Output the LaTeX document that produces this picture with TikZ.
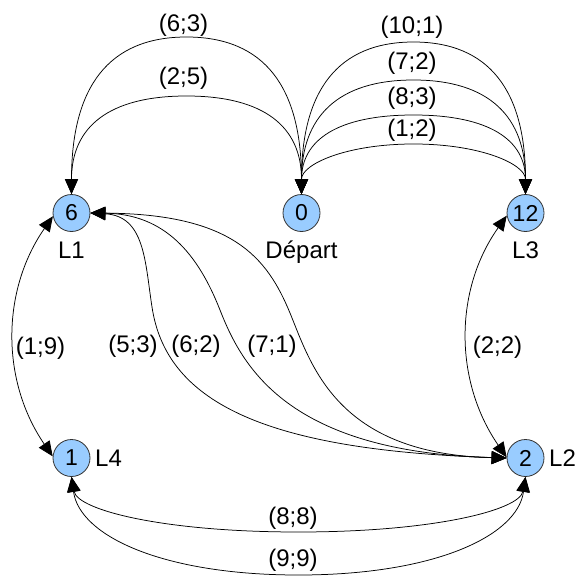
\documentclass[tikz,border=0pt]{standalone}
\usepackage{fontspec}
\setmainfont{Liberation Sans}
\usetikzlibrary{arrows.meta}
\definecolor{nodeblue}{HTML}{99CCFF}
\definecolor{rim}{HTML}{333333}
\begin{document}
\begin{tikzpicture}[x=1pt,y=-1pt,
  stop/.style={circle,draw=rim,line width=0.8pt,fill=nodeblue,minimum size=37pt,
    inner sep=0pt,font=\fontsize{23}{27}\selectfont},
  tag/.style={font=\fontsize{24}{28}\selectfont,inner sep=0pt},
  link/.style={draw=black,line width=0.75pt,
    {Triangle[length=15pt,width=13pt]}-{Triangle[length=15pt,width=13pt]}}]
\useasboundingbox (0,0) rectangle (578,583);

% stops
\node[stop] (n6)  at (71.5,213)  {6};
\node[stop] (n0)  at (301.5,213) {0};
\node[stop] (n12) at (525.5,213) {12};
\node[stop] (n1)  at (71.5,458)  {1};
\node[stop] (n2)  at (525.5,458) {2};

% stop names
\node[tag,anchor=base] (l1) at (71.5,258) {L1};
\node[tag,anchor=base] (dep) at (301.5,258) {Départ};
\node[tag,anchor=base] (l3) at (525.5,258) {L3};
\node[tag,anchor=base west] (l4) at (95,466) {L4};
\node[tag,anchor=base west] (l2) at (549,466) {L2};

% arches between 0 and 6
\draw[link] (n0.north) .. controls +(0,-107) and +(78,0) .. (186.5,37)
  .. controls +(-78,0) and +(0,-107) .. (n6.north);
\draw[link] (n0.north) .. controls +(0,-67) and +(78,0) .. (186.5,96)
  .. controls +(-78,0) and +(0,-67) .. (n6.north);

% arches between 0 and 12
\draw[link] (n0.north) .. controls +(0,-103) and +(-76,0) .. (413.5,42)
  .. controls +(76,0) and +(0,-103) .. (n12.north);
\draw[link] (n0.north) .. controls +(0,-77) and +(-76,0) .. (413.5,80)
  .. controls +(76,0) and +(0,-77) .. (n12.north);
\draw[link] (n0.north) .. controls +(0,-54) and +(-76,0) .. (413.5,115)
  .. controls +(76,0) and +(0,-54) .. (n12.north);
\draw[link] (n0.north) .. controls +(0,-30) and +(-67,0) .. (413.5,144)
  .. controls +(67,0) and +(0,-30) .. (n12.north);

% side links
\draw[link] (n6.190) .. controls (1,291) and (1,381) .. (n1.175);
\draw[link] (n12.188) .. controls (454,290) and (454,381) .. (n2.178);

% links between 6 and 2
\draw[link] (n6.east) .. controls (145,216) and (145,262) .. (152,307)
  .. controls (166,400) and (260,450) .. (n2.west);
\draw[link] (n6.east) .. controls (165,214) and (198,254) .. (220,310)
  .. controls (242,366) and (287,452) .. (n2.west);
\draw[link] (n6.east) .. controls (233,214) and (267,257.5) .. (290,313)
  .. controls (311,364) and (336,454) .. (n2.west);

% links between 1 and 2
\draw[link] (n1.south) .. controls +(6,33) and +(-136,0) .. (298.5,532)
  .. controls +(136,0) and +(-6,33) .. (n2.south);
\draw[link] (n1.south) .. controls +(8,59) and +(-136,0) .. (298.5,575)
  .. controls +(136,0) and +(-8,59) .. (n2.south);

% link labels
\node[tag] (t63)  at (183.5,25)  {(6;3)};
\node[tag] (t25)  at (183.5,78)  {(2;5)};
\node[tag] (t101) at (412,27)    {(10;1)};
\node[tag] (t72)  at (412,63.5)  {(7;2)};
\node[tag] (t83)  at (412,98)    {(8;3)};
\node[tag] (t12)  at (412,130)   {(1;2)};
\node[tag] (t19)  at (40.5,348)  {(1;9)};
\node[tag] (t53)  at (133,346)   {(5;3)};
\node[tag] (t62)  at (196,346)   {(6;2)};
\node[tag] (t71)  at (272,346)   {(7;1)};
\node[tag] (t22)  at (497.5,347) {(2;2)};
\node[tag] (t88)  at (293,518)   {(8;8)};
\node[tag] (t99)  at (293,560)   {(9;9)};
\end{tikzpicture}
\end{document}
